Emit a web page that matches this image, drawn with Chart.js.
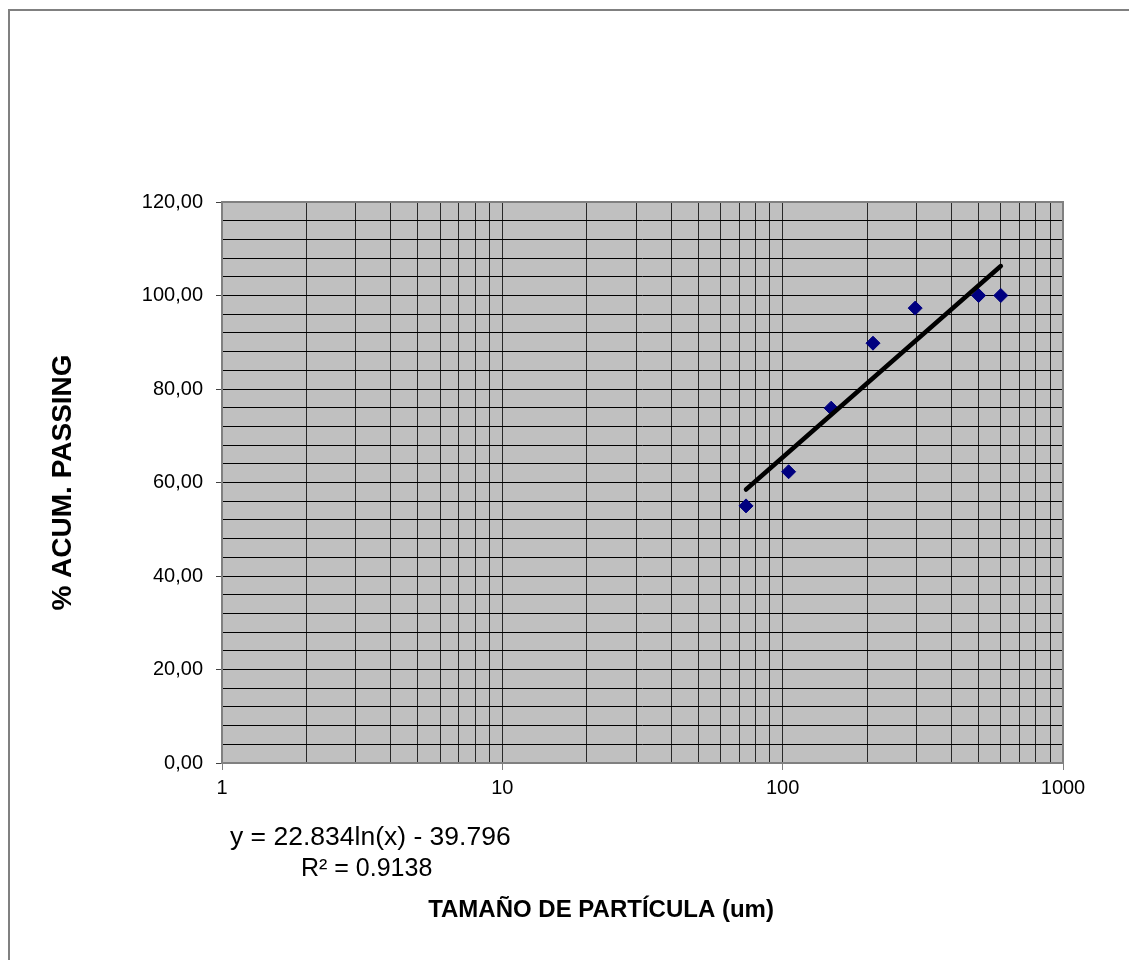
<!DOCTYPE html>
<html>
<head>
<meta charset="utf-8">
<script src="https://cdn.jsdelivr.net/npm/chart.js@4/dist/chart.umd.min.js"></script>
<style>
  html, body { margin: 0; padding: 0; background: #fff; }
  #wrap { position: relative; width: 1129px; height: 960px; }
</style>
</head>
<body>
<div id="wrap"><canvas id="chart" width="1129" height="960"></canvas></div>
<script>
// sieve data: particle size (um) vs cumulative % passing
const particleSize = [74, 105, 149, 210, 297, 500, 600];
const passing      = [55.0, 62.3, 75.9, 89.8, 97.3, 100.0, 100.0];

// log trendline endpoints as drawn
const trendSize    = [74, 600];
const trendPassing = [58.5, 106.3];

const xLabelValues = [1, 10, 100, 1000];
const yLabelValues = [0, 20, 40, 60, 80, 100, 120];
const yMinorStep   = 4;

const equationText = 'y = 22.834ln(x) - 39.796';
const r2Text       = 'R² = 0.9138';
const xTitle       = 'TAMAÑO DE PARTÍCULA (um)';
const yTitle       = '% ACUM. PASSING';

const FONT = '"Liberation Sans", Arial, sans-serif';

// every 1..9 per decade for the log grid
const xGridValues = [];
for (let d = 1; d < 1000; d *= 10) {
    for (let m = 1; m < 10; m++) xGridValues.push(m * d);
}
xGridValues.push(1000);

const yGridValues = [];
for (let v = 0; v <= 120; v += yMinorStep) yGridValues.push(v);

const plotFrame = {
    id: 'plotFrame',
    beforeDraw(chart) {
        const { ctx, chartArea: a } = chart;
        ctx.save();
        ctx.fillStyle = '#c0c0c0';
        ctx.fillRect(a.left, a.top, a.right - a.left, a.bottom - a.top);
        // outer chart border (right/bottom fall outside the picture)
        ctx.strokeStyle = '#808080';
        ctx.lineWidth = 2;
        ctx.strokeRect(9, 10, 1300, 1300);
        ctx.restore();
    },
    beforeDatasetsDraw(chart) {
        const { ctx, chartArea: a } = chart;
        ctx.save();
        ctx.strokeStyle = '#808080';
        ctx.lineWidth = 2;
        ctx.strokeRect(a.left, a.top, a.right - a.left, a.bottom - a.top);
        ctx.restore();
    },
    afterDraw(chart) {
        const { ctx } = chart;
        ctx.save();
        ctx.fillStyle = '#000';
        ctx.textBaseline = 'alphabetic';
        ctx.textAlign = 'left';
        ctx.font = '26.5px ' + FONT;
        ctx.fillText(equationText, 230, 845);
        ctx.font = '25px ' + FONT;
        ctx.fillText(r2Text, 301, 876);
        ctx.font = 'bold 24px ' + FONT;
        ctx.textAlign = 'center';
        ctx.fillText(xTitle, 601, 917);
        ctx.restore();
    },
};

new Chart(document.getElementById('chart'), {
    type: 'scatter',
    data: {
        datasets: [
            {
                data: trendSize.map((x, i) => ({ x, y: trendPassing[i] })),
                showLine: true,
                borderColor: '#000',
                borderWidth: 4.5,
                borderCapStyle: 'round',
                pointRadius: 0,
                order: 0,
            },
            {
                data: particleSize.map((x, i) => ({ x, y: passing[i] })),
                pointStyle: 'rectRot',
                pointRadius: 7,
                pointBackgroundColor: '#000080',
                pointBorderColor: '#000080',
                pointBorderWidth: 1,
                order: 1,
            },
        ],
    },
    options: {
        responsive: false,
        animation: false,
        layout: { padding: { top: 202, right: 66, left: 0, bottom: 0 } },
        plugins: { legend: { display: false }, tooltip: { enabled: false } },
        scales: {
            x: {
                type: 'logarithmic',
                min: 1,
                max: 1000,
                afterBuildTicks: s => { s.ticks = xGridValues.map(v => ({ value: v })); },
                afterFit: s => { s.height = 197; },
                border: { display: false },
                grid: {
                    color: '#282828',
                    lineWidth: 1,
                    tickLength: 7,
                    tickColor: c => xLabelValues.includes(c.tick.value) ? '#808080' : 'rgba(0,0,0,0)',
                },
                ticks: {
                    autoSkip: false,
                    maxRotation: 0,
                    padding: 6,
                    color: '#000',
                    font: { family: FONT, size: 20 },
                    callback: v => xLabelValues.includes(v) ? String(v) : '',
                },
            },
            y: {
                min: 0,
                max: 120,
                afterBuildTicks: s => { s.ticks = yGridValues.map(v => ({ value: v })); },
                afterFit: s => { s.width = 222; },
                border: { display: false },
                grid: {
                    color: '#000',
                    lineWidth: 1,
                    tickLength: 6,
                    tickColor: c => yLabelValues.includes(c.tick.value) ? '#404040' : 'rgba(0,0,0,0)',
                },
                ticks: {
                    autoSkip: false,
                    padding: 13,
                    color: '#000',
                    font: { family: FONT, size: 20 },
                    callback: v => yLabelValues.includes(v) ? v.toFixed(2).replace('.', ',') : '',
                },
                title: {
                    display: true,
                    text: yTitle,
                    color: '#000',
                    font: { family: FONT, size: 28, weight: 'bold' },
                    padding: { top: 46, bottom: 0 },
                },
            },
        },
    },
    plugins: [plotFrame],
});
</script>
</body>
</html>
